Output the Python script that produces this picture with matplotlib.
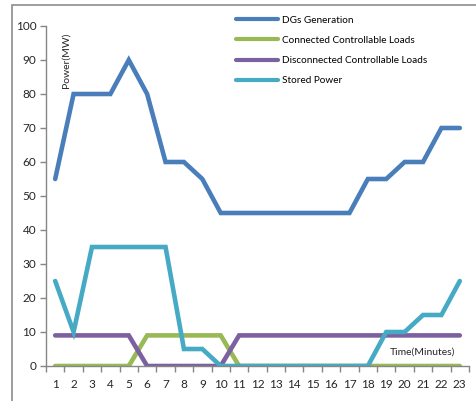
import matplotlib.pyplot as plt
import numpy as np
from matplotlib.patches import Rectangle

minutes = list(range(1, 24))
dg_generation = [55, 80, 80, 80, 90, 80, 60, 60, 55, 45, 45, 45, 45, 45, 45, 45, 45,
                 55, 55, 60, 60, 70, 70]
connected_loads = [0, 0, 0, 0, 0, 9, 9, 9, 9, 9, 0, 0, 0, 0, 0, 0, 0, 0, 0, 0, 0, 0, 0]
disconnected_loads = [9, 9, 9, 9, 9, 0, 0, 0, 0, 0, 9, 9, 9, 9, 9, 9, 9, 9, 9, 9, 9, 9, 9]
stored_power = [25, 10, 35, 35, 35, 35, 35, 5, 5, 0, 0, 0, 0, 0, 0, 0, 0, 0, 10, 10,
                15, 15, 25]

series = [
    ("DGs Generation", dg_generation, "#4A7EBB"),
    ("Connected Controllable Loads", connected_loads, "#98B954"),
    ("Disconnected Controllable Loads", disconnected_loads, "#7D60A0"),
    ("Stored Power", stored_power, "#46AAC5"),
]

plt.rcParams["font.family"] = ["Lato", "DejaVu Sans"]

fig = plt.figure(figsize=(4.77, 4.01), dpi=100)
ax = fig.add_axes([46 / 477, 1 - 366 / 401, 423 / 477, 340 / 401])

# outer chart frame (only left/top visible in the picture)
fig.patches.append(Rectangle((12 / 477, -0.1), 1.2, 1 - 5 / 401 + 0.1,
                             transform=fig.transFigure, fill=False,
                             edgecolor="#8c8c8c", lw=1.2))

for name, vals, col in series:
    ax.plot(minutes, vals, color=col, lw=3.3, label=name,
            solid_joinstyle="miter", solid_capstyle="round")

ax.set_xlim(0.5, 23.5)
ax.set_ylim(0, 100)
ax.set_yticks(np.arange(0, 101, 10))
ax.set_xticks(minutes)
ax.set_xticks(np.arange(0.5, 24, 1), minor=True)
ax.tick_params(axis="x", which="major", length=0, labelsize=8.5, pad=9, colors="#262626")
ax.tick_params(axis="x", which="minor", length=4, color="#868686", width=1)
ax.tick_params(axis="y", length=4, color="#868686", width=1, labelsize=8.5,
               colors="#868686", labelcolor="#262626", pad=3)

for side in ["top", "right"]:
    ax.spines[side].set_visible(False)
for side in ["left", "bottom"]:
    ax.spines[side].set_color("#868686")
    ax.spines[side].set_linewidth(1)

ax.text(0.047, 0.9, "Power(MW)", transform=ax.transAxes, rotation=90,
        fontsize=7.5, ha="center", va="center", color="#262626")
ax.text(0.891, 0.041, "Time(Minutes)", transform=ax.transAxes,
        fontsize=7.5, ha="center", va="center", color="#262626")

leg = ax.legend(loc="upper left", bbox_to_anchor=(0.44, 1.042), frameon=False,
                fontsize=7.2, handlelength=4.2, handletextpad=0.35,
                labelspacing=1.12, borderaxespad=0)
for line in leg.get_lines():
    line.set_linewidth(3)

fig.savefig("out.png", dpi=100)
